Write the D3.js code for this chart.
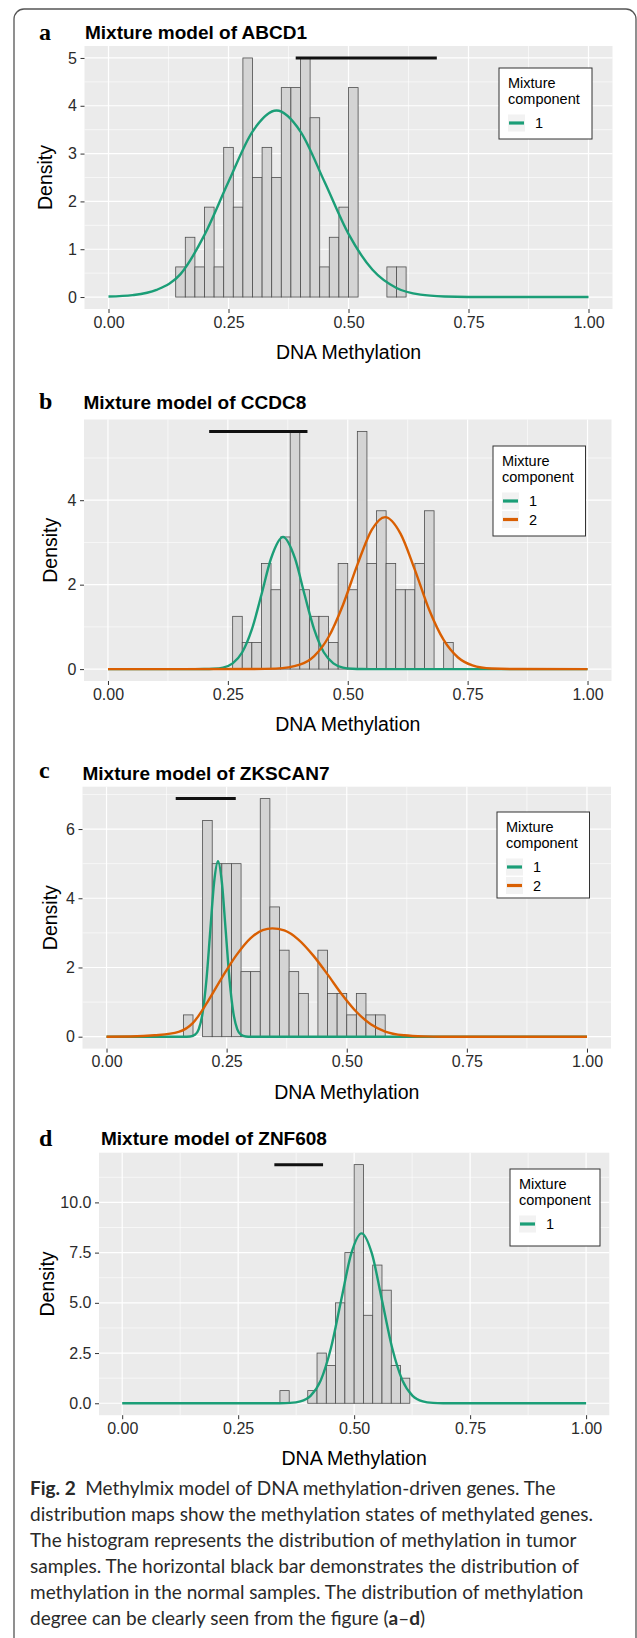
<!DOCTYPE html>
<html>
<head>
<meta charset="utf-8">
<script src="https://cdn.jsdelivr.net/npm/d3@7"></script>
<style>
  body { margin: 0; background: #fff; }
  svg text { font-family: "Liberation Sans", Arial, sans-serif; }
</style>
</head>
<body>
<svg id="fig" width="637" height="1638"></svg>
<script>
// ---- data ----
const binWidth = 0.02;
const xTickValues = [0, 0.25, 0.5, 0.75, 1];
const xTickLabels = ["0.00", "0.25", "0.50", "0.75", "1.00"];
const componentColors = ["#1B9E77", "#D95F02"];

// a) ABCD1
const abcd1Bins = [0.14, 0.16, 0.18, 0.20, 0.22, 0.24, 0.26, 0.28, 0.30, 0.32, 0.34, 0.36,
                   0.38, 0.40, 0.42, 0.44, 0.46, 0.48, 0.50, 0.52, 0.54, 0.56, 0.58, 0.60];
const abcd1Density = [0.63, 1.25, 0.63, 1.88, 0.63, 3.13, 1.88, 5.00, 2.50, 3.13, 2.50, 4.38,
                      4.38, 5.00, 3.75, 0.63, 1.25, 1.88, 4.38, 0, 0, 0, 0.63, 0.63];
const abcd1Normal = [0.39, 0.684];
const abcd1Comp1X = [0, 0.05, 0.10, 0.15, 0.20, 0.25, 0.30, 0.35, 0.40, 0.45, 0.50, 0.55, 0.60, 0.65, 0.70, 0.75, 0.80, 1.00];
const abcd1Comp1Y = [0.01, 0.04, 0.15, 0.48, 1.30, 2.41, 3.46, 3.90, 3.46, 2.41, 1.32, 0.57, 0.19, 0.05, 0.01, 0, 0, 0];
const abcd1YTicks = [0, 1, 2, 3, 4, 5];
const abcd1YLabels = ["0", "1", "2", "3", "4", "5"];

// b) CCDC8
const ccdc8Bins = [0.26, 0.28, 0.30, 0.32, 0.34, 0.36, 0.38, 0.40, 0.42, 0.44, 0.46, 0.48,
                   0.50, 0.52, 0.54, 0.56, 0.58, 0.60, 0.62, 0.64, 0.66, 0.68, 0.70];
const ccdc8Density = [1.25, 0.63, 0.63, 2.50, 1.88, 3.13, 5.63, 1.88, 1.25, 1.25, 0.63, 2.50,
                      1.88, 5.63, 2.50, 3.75, 2.50, 1.88, 1.88, 2.50, 3.75, 0, 0.63];
const ccdc8Normal = [0.211, 0.416];
const ccdc8Comp1X = [0, 0.18, 0.20, 0.22, 0.24, 0.26, 0.28, 0.30, 0.32, 0.34, 0.365, 0.39, 0.41, 0.43, 0.45, 0.47, 0.49, 0.51, 0.53, 0.56, 1.0];
const ccdc8Comp1Y = [0, 0, 0.001, 0.008, 0.037, 0.137, 0.40, 0.94, 1.76, 2.62, 3.13, 2.62, 1.76, 0.94, 0.40, 0.137, 0.037, 0.008, 0.001, 0, 0];
const ccdc8Comp2X = [0, 0.30, 0.35, 0.40, 0.43, 0.46, 0.49, 0.52, 0.55, 0.578, 0.61, 0.64, 0.67, 0.70, 0.73, 0.76, 0.80, 0.85, 1.0];
const ccdc8Comp2Y = [0, 0.001, 0.011, 0.105, 0.31, 0.76, 1.52, 2.47, 3.30, 3.60, 3.21, 2.35, 1.40, 0.69, 0.275, 0.09, 0.015, 0.001, 0];
const ccdc8YTicks = [0, 2, 4];
const ccdc8YLabels = ["0", "2", "4"];

// c) ZKSCAN7
const zkscan7Bins = [0.16, 0.18, 0.20, 0.22, 0.24, 0.26, 0.28, 0.30, 0.32, 0.34, 0.36,
                     0.38, 0.40, 0.42, 0.44, 0.46, 0.48, 0.50, 0.52, 0.54, 0.56];
const zkscan7Density = [0.63, 0, 6.25, 5.00, 5.00, 5.00, 1.88, 1.88, 6.88, 3.75, 2.50,
                        1.88, 1.25, 0, 2.50, 1.25, 1.25, 0.63, 1.25, 0.63, 0.63];
const zkscan7Normal = [0.144, 0.269];
const zkscan7Comp1X = [0, 0.16, 0.174, 0.184, 0.192, 0.20, 0.208, 0.216, 0.224, 0.232, 0.24, 0.248, 0.256, 0.264, 0.272, 0.28, 0.29, 0.30, 1.0];
const zkscan7Comp1Y = [0, 0, 0.007, 0.056, 0.22, 0.69, 1.65, 3.07, 4.47, 5.07, 4.47, 3.07, 1.65, 0.69, 0.22, 0.056, 0.007, 0, 0];
const zkscan7Comp2X = [0, 0.05, 0.10, 0.15, 0.18, 0.21, 0.24, 0.27, 0.30, 0.325, 0.345, 0.37, 0.40, 0.43, 0.46, 0.49, 0.52, 0.55, 0.58, 0.62, 0.66, 0.70, 1.0];
const zkscan7Comp2Y = [0, 0.005, 0.04, 0.14, 0.40, 1.0, 1.7, 2.35, 2.85, 3.08, 3.13, 3.07, 2.8, 2.35, 1.8, 1.22, 0.72, 0.36, 0.15, 0.04, 0.008, 0, 0];
const zkscan7YTicks = [0, 2, 4, 6];
const zkscan7YLabels = ["0", "2", "4", "6"];

// d) ZNF608
const znf608Bins = [0.34, 0.36, 0.38, 0.40, 0.42, 0.44, 0.46, 0.48, 0.50, 0.52, 0.54, 0.56, 0.58, 0.60];
const znf608Density = [0.63, 0, 0, 0.63, 2.50, 1.88, 5.00, 7.50, 11.88, 4.38, 6.88, 5.63, 1.88, 1.25];
const znf608Normal = [0.328, 0.433];
const znf608Comp1X = [0, 0.32, 0.34, 0.362, 0.384, 0.406, 0.428, 0.45, 0.472, 0.494, 0.516, 0.538, 0.56, 0.582, 0.604, 0.626, 0.648, 0.67, 0.692, 0.72, 1.0];
const znf608Comp1Y = [0, 0, 0.003, 0.019, 0.094, 0.37, 1.14, 2.75, 5.13, 7.47, 8.46, 7.47, 5.13, 2.75, 1.14, 0.37, 0.094, 0.019, 0.003, 0, 0];
const znf608YTicks = [0, 2.5, 5, 7.5, 10];
const znf608YLabels = ["0.0", "2.5", "5.0", "7.5", "10.0"];

const captionLines = [
  [["Fig. 2", true], ["\u2002Methylmix model of DNA methylation-driven genes. The", false]],
  [["distribution maps show the methylation states of methylated genes.", false]],
  [["The histogram represents the distribution of methylation in tumor", false]],
  [["samples. The horizontal black bar demonstrates the distribution of", false]],
  [["methylation in the normal samples. The distribution of methylation", false]],
  [["degree can be clearly seen from the figure (", false], ["a", true], ["\u2013", false], ["d", true], [")", false]]
];

// ---- layout ----
const panels = [
  { letter: "a", gene: "ABCD1", bins: abcd1Bins, density: abcd1Density, normal: abcd1Normal,
    comps: [[abcd1Comp1X, abcd1Comp1Y]], yTicks: abcd1YTicks, yLabels: abcd1YLabels,
    left: 84.5, right: 612.5, top: 46, bottom: 309, titleY: 39, letterY: 40, titleX: 85, densX: 52,
    legend: { x: 499, y: 68, w: 93, h: 71 } },
  { letter: "b", gene: "CCDC8", bins: ccdc8Bins, density: ccdc8Density, normal: ccdc8Normal,
    comps: [[ccdc8Comp1X, ccdc8Comp1Y], [ccdc8Comp2X, ccdc8Comp2Y]], yTicks: ccdc8YTicks, yLabels: ccdc8YLabels,
    left: 84, right: 611.5, top: 419.5, bottom: 681, titleY: 409, letterY: 409, titleX: 83.5, densX: 57,
    legend: { x: 493, y: 446, w: 92.5, h: 90 } },
  { letter: "c", gene: "ZKSCAN7", bins: zkscan7Bins, density: zkscan7Density, normal: zkscan7Normal,
    comps: [[zkscan7Comp1X, zkscan7Comp1Y], [zkscan7Comp2X, zkscan7Comp2Y]], yTicks: zkscan7YTicks, yLabels: zkscan7YLabels,
    left: 82.5, right: 611, top: 786.7, bottom: 1048.6, titleY: 780, letterY: 778, titleX: 82.5, densX: 57,
    legend: { x: 497, y: 812, w: 92.5, h: 86 } },
  { letter: "d", gene: "ZNF608", bins: znf608Bins, density: znf608Density, normal: znf608Normal,
    comps: [[znf608Comp1X, znf608Comp1Y]], yTicks: znf608YTicks, yLabels: znf608YLabels,
    left: 99, right: 609.3, top: 1152.7, bottom: 1415.2, titleY: 1145, letterY: 1146, titleX: 101, densX: 54,
    legend: { x: 510, y: 1169, w: 90, h: 77 } }
];

const svg = d3.select("#fig");

// rounded frame around the figure
svg.append("rect")
  .attr("x", 14).attr("y", 9)
  .attr("width", 622).attr("height", 1700)
  .attr("rx", 10)
  .attr("fill", "none")
  .attr("stroke", "#555")
  .attr("stroke-width", 1.3);

function drawPanel(p) {
  const g = svg.append("g");
  const yMax = d3.max(p.density);

  const x = d3.scaleLinear().domain([-0.05, 1.05]).range([p.left, p.right]);
  const y = d3.scaleLinear().domain([-0.05 * yMax, 1.05 * yMax]).range([p.bottom, p.top]);

  g.append("rect")
    .attr("x", p.left).attr("y", p.top)
    .attr("width", p.right - p.left).attr("height", p.bottom - p.top)
    .attr("fill", "#EBEBEB");

  // grid: minor first, then major
  const yStep = p.yTicks[1] - p.yTicks[0];
  const xMinor = xTickValues.slice(0, -1).map(v => v + 0.125);
  const yMinor = p.yTicks.map(v => v + yStep / 2).filter(v => v < 1.05 * yMax);

  g.selectAll(".xminor").data(xMinor).enter().append("line")
    .attr("x1", d => x(d)).attr("x2", d => x(d))
    .attr("y1", p.top).attr("y2", p.bottom)
    .attr("stroke", "#fff").attr("stroke-width", 0.6);
  g.selectAll(".yminor").data(yMinor).enter().append("line")
    .attr("x1", p.left).attr("x2", p.right)
    .attr("y1", d => y(d)).attr("y2", d => y(d))
    .attr("stroke", "#fff").attr("stroke-width", 0.6);
  g.selectAll(".xmajor").data(xTickValues).enter().append("line")
    .attr("x1", d => x(d)).attr("x2", d => x(d))
    .attr("y1", p.top).attr("y2", p.bottom)
    .attr("stroke", "#fff").attr("stroke-width", 1.2);
  g.selectAll(".ymajor").data(p.yTicks).enter().append("line")
    .attr("x1", p.left).attr("x2", p.right)
    .attr("y1", d => y(d)).attr("y2", d => y(d))
    .attr("stroke", "#fff").attr("stroke-width", 1.2);

  // histogram
  g.selectAll(".bar").data(p.bins).enter().append("rect")
    .attr("x", d => x(d))
    .attr("width", x(binWidth) - x(0))
    .attr("y", (d, i) => y(p.density[i]))
    .attr("height", (d, i) => y(0) - y(p.density[i]))
    .attr("fill", "#D4D4D4")
    .attr("stroke", "#4D4D4D")
    .attr("stroke-width", 0.8);

  // normal samples range bar
  g.append("line")
    .attr("x1", x(p.normal[0])).attr("x2", x(p.normal[1]))
    .attr("y1", y(yMax)).attr("y2", y(yMax))
    .attr("stroke", "#111").attr("stroke-width", 3);

  // mixture components
  const line = d3.line().x(d => x(d[0])).y(d => y(d[1])).curve(d3.curveMonotoneX);
  p.comps.forEach(([cx, cy], k) => {
    g.append("path")
      .datum(cx.map((v, i) => [v, cy[i]]))
      .attr("fill", "none")
      .attr("stroke", componentColors[k])
      .attr("stroke-width", 2.4)
      .attr("d", line);
  });

  // axes
  const xAxis = g.append("g")
    .attr("transform", `translate(0,${p.bottom})`)
    .call(d3.axisBottom(x).tickValues(xTickValues).tickFormat((d, i) => xTickLabels[i]).tickSize(4).tickPadding(3.5));
  const yAxis = g.append("g")
    .attr("transform", `translate(${p.left},0)`)
    .call(d3.axisLeft(y).tickValues(p.yTicks).tickFormat((d, i) => p.yLabels[i]).tickSize(4).tickPadding(3.5));
  [xAxis, yAxis].forEach(a => {
    a.select(".domain").remove();
    a.selectAll("line").attr("stroke", "#333");
    a.selectAll("text")
      .attr("font-size", 16)
      .attr("fill", "#2b2b2b")
      .style("font-family", '"Liberation Sans", Arial, sans-serif');
  });

  g.append("text")
    .attr("x", (p.left + p.right) / 2).attr("y", p.bottom + 50)
    .attr("text-anchor", "middle")
    .attr("font-size", 19.5)
    .text("DNA Methylation");

  g.append("text")
    .attr("transform", `translate(${p.densX},${(p.top + p.bottom) / 2}) rotate(-90)`)
    .attr("text-anchor", "middle")
    .attr("font-size", 19.5)
    .text("Density");

  // titles
  g.append("text")
    .attr("x", p.titleX).attr("y", p.titleY)
    .attr("font-size", 19).attr("font-weight", "bold")
    .text(`Mixture model of ${p.gene}`);
  g.append("text")
    .attr("x", 39).attr("y", p.letterY)
    .attr("font-size", 24).attr("font-weight", "bold")
    .style("font-family", '"Liberation Serif", "Times New Roman", serif')
    .text(p.letter);

  // legend
  const L = p.legend;
  const lg = g.append("g").attr("transform", `translate(${L.x},${L.y})`);
  lg.append("rect").attr("width", L.w).attr("height", L.h)
    .attr("fill", "#fff").attr("stroke", "#333").attr("stroke-width", 1);
  lg.append("text").attr("x", 9).attr("y", 20).attr("font-size", 14.5).text("Mixture");
  lg.append("text").attr("x", 9).attr("y", 36).attr("font-size", 14.5).text("component");
  p.comps.forEach((c, k) => {
    const ky = 55 + k * 18.5;
    lg.append("rect").attr("x", 9).attr("y", ky - 8.5).attr("width", 17).attr("height", 17).attr("fill", "#F2F2F2");
    lg.append("line").attr("x1", 10).attr("x2", 25).attr("y1", ky).attr("y2", ky)
      .attr("stroke", componentColors[k]).attr("stroke-width", 3.2);
    lg.append("text").attr("x", 36).attr("y", ky + 5).attr("font-size", 14.5).text(String(k + 1));
  });
}

panels.forEach(drawPanel);

// caption
const cap = svg.append("g")
  .attr("font-size", 19)
  .attr("fill", "#2a2a2a");
captionLines.forEach((parts, i) => {
  const t = cap.append("text").attr("x", 30).attr("y", 1495 + i * 26)
    .style("font-family", 'Lato, "Open Sans", sans-serif');
  parts.forEach(([str, bold]) => {
    t.append("tspan").attr("font-weight", bold ? "bold" : null).text(str);
  });
});
</script>
</body>
</html>
